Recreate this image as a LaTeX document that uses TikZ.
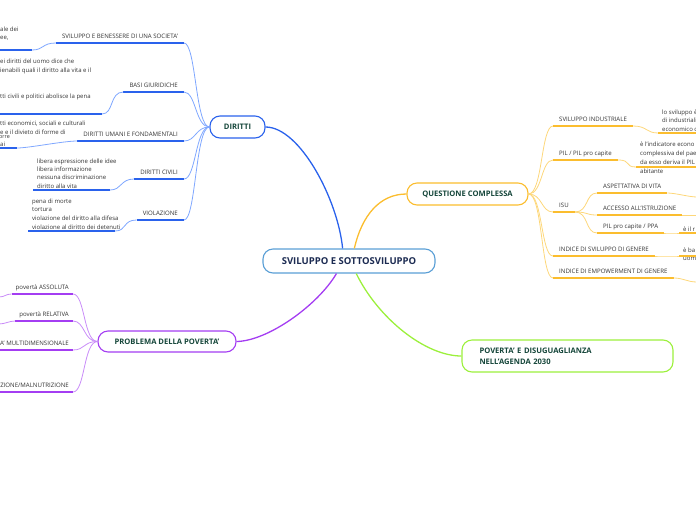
\documentclass[tikz,border=0pt]{standalone}
\usepackage{fontspec}
\setmainfont{Open Sans}
\usepackage{xcolor}
\usetikzlibrary{positioning}
\definecolor{rootblue}{HTML}{5A9FD6}
\definecolor{rootink}{HTML}{1C2B52}
\definecolor{mainink}{HTML}{15463A}
\definecolor{leafink}{HTML}{333333}
\definecolor{dblue}{HTML}{2A62EC}
\definecolor{lblue}{HTML}{7FA7FF}
\definecolor{dorange}{HTML}{FBBD2E}
\definecolor{lorange}{HTML}{FDD77A}
\definecolor{dpurple}{HTML}{A43DF2}
\definecolor{lpurple}{HTML}{C98CF8}
\definecolor{lgreen}{HTML}{9CF03C}

\begin{document}
\begin{tikzpicture}[x=1pt,y=-1pt,
  root/.style={draw=rootblue,line width=1.1pt,rounded corners=10pt,fill=white,text=rootink,
    font=\bfseries\fontsize{9.5}{11}\selectfont,minimum width=172pt,minimum height=24pt},
  main/.style={line width=1.1pt,rounded corners=10pt,fill=white,text=mainink,
    font=\bfseries\fontsize{7.6}{11}\selectfont,minimum height=22pt},
  topic/.style={text=leafink,font=\fontsize{6.1}{8.4}\selectfont,inner xsep=6pt,inner ysep=3pt,
    text height=4.4pt,text depth=1.5pt},
  leaf/.style={text=leafink,font=\fontsize{6}{8.4}\selectfont,align=left,inner xsep=4pt,inner ysep=1.5pt},
  uline/.style={line width=1.7pt},
  lnk/.style={line width=0.8pt},
  lft/.style={out=180,in=0,out distance=14pt,in distance=12pt},
  rgt/.style={out=0,in=180,out distance=14pt,in distance=12pt}]
  \useasboundingbox (0,0) rectangle (696,520);

  \node[root] (svil) at (349,261) {SVILUPPO E SOTTOSVILUPPO};
  \node[main,draw=dblue,minimum width=55pt] (dir) at (237.5,127) {DIRITTI};
  \node[main,draw=dorange,minimum width=121pt] (qc) at (467.5,194) {QUESTIONE COMPLESSA};
  \node[main,draw=dpurple,minimum width=138pt,minimum height=21pt] (pov) at (167,341.5) {PROBLEMA DELLA POVERTA'};
  \node[main,draw=lgreen,align=left,text width=176pt,inner xsep=17.5pt,minimum height=32pt] (agenda) at (567.5,356)
    {POVERTA' E DISUGUAGLIANZA\\NELL'AGENDA 2030};

  \draw[dblue,line width=1.3pt] (svil.117) .. controls (338,200) and (300,127) .. (dir.east);
  \draw[dorange,line width=1.3pt] (svil.67) .. controls (362,215) and (380,194) .. (qc.west);
  \draw[dpurple,line width=1.3pt] (svil.225) .. controls (318,305) and (268,341) .. (pov.east);
  \draw[lgreen,line width=1.3pt] (svil.-60) .. controls (378,318) and (425,356) .. (agenda.west);

  % diritti
  \node[topic,anchor=south east] (sviben) at (184,43) {SVILUPPO E BENESSERE DI UNA SOCIETA'};
  \node[topic,anchor=south east] (basi) at (184,92) {BASI GIURIDICHE};
  \node[topic,anchor=south east] (umani) at (184,141) {DIRITTI UMANI E FONDAMENTALI};
  \node[topic,anchor=south east] (civ) at (184,179) {DIRITTI CIVILI};
  \node[topic,anchor=south east] (viol) at (184,220) {VIOLAZIONE};
  \foreach \t in {sviben,basi,umani,civ,viol}{
    \draw[lblue,lnk] (dir.west) to[lft] (\t.south east);
    \draw[dblue,uline] (\t.south west) -- (\t.south east);
  }

  \node[leaf,anchor=south west,inner xsep=0pt] (benleaf) at (0,50) {ale dei\\ee,\\\mbox{}};
  \coordinate (benend) at (32,50);
  \node[leaf,anchor=south west,inner xsep=0pt] (basileaf) at (0,114)
    {ei diritti del uomo dice che\\ienabili quali il diritto alla vita e il\\[17.6pt]tti civili e politici abolisce la pena\\[5.6pt]\mbox{}};
  \coordinate (basiend) at (102,114);
  \node[leaf,anchor=south west,inner xsep=0pt] (umleaf) at (0,148)
    {tti economici, sociali e culturali\\e e il divieto di forme di\\[3.6pt]ai};
  \node[leaf,anchor=base west,inner xsep=0pt,font=\fontsize{5.4}{6}\selectfont] (orre) at (-1,138.5) {orre};
  \coordinate (umend) at (17,148);
  \node[leaf,anchor=south west] (civleaf) at (33,190)
    {libera espressione delle idee\\libera informazione\\nessuna discriminazione\\diritto alla vita};
  \coordinate (civend) at (110,190);
  \node[leaf,anchor=south west,font=\fontsize{6}{8.7}\selectfont] (violleaf) at (28,231)
    {pena di morte\\tortura\\violazione del diritto alla difesa\\violazione al diritto dei detenuti};
  \coordinate (violend) at (115,231);
  \foreach \t/\l/\e in {sviben/benleaf/benend,basi/basileaf/basiend,umani/umleaf/umend,civ/civleaf/civend,viol/violleaf/violend}{
    \draw[lblue,lnk] (\t.south west) to[lft] (\e);
    \draw[dblue,uline] (\l.south west) -- (\e);
  }

  % questione complessa
  \node[topic,anchor=south west] (ind) at (553,126) {SVILUPPO INDUSTRIALE};
  \node[topic,anchor=south west] (pil) at (553,160) {PIL / PIL pro capite};
  \node[topic,anchor=south west] (isu) at (553,212) {ISU};
  \node[topic,anchor=south west] (isg) at (553,256) {INDICE DI SVILUPPO DI GENERE};
  \node[topic,anchor=south west] (ieg) at (553,278) {INDICE DI EMPOWERMENT DI GENERE};
  \node[topic,anchor=south west] (vita) at (597,193) {ASPETTATIVA DI VITA};
  \node[topic,anchor=south west] (istr) at (597,215) {ACCESSO ALL'ISTRUZIONE};
  \node[topic,anchor=south west] (ppa) at (597,233) {PIL pro capite / PPA};
  \foreach \t in {ind,pil,isu,isg,ieg}
    \draw[lorange,lnk] (qc.east) to[rgt] (\t.south west);
  \foreach \t in {vita,istr,ppa}
    \draw[lorange,lnk] (isu.south east) to[rgt] (\t.south west);
  \foreach \t in {ind,pil,isu,isg,ieg,vita,istr,ppa}
    \draw[dorange,uline] (\t.south west) -- (\t.south east);

  \node[leaf,anchor=south west] (indleaf) at (658,133) {lo sviluppo è\\di industriali\\economico d};
  \coordinate (indend) at (697,133);
  \node[leaf,anchor=north west,font=\fontsize{6}{9}\selectfont] (pilleaf) at (636,140)
    {è l'indicatore econo\\complessiva del pae\\da esso deriva il PIL\\abitante};
  \coordinate (pilstart) at (636,167);
  \coordinate (pilend) at (697,167);
  \node[leaf,anchor=south west] (ppaleaf) at (679,233) {è il r};
  \coordinate (ppaend) at (697,233);
  \node[leaf,anchor=north west] (isgleaf) at (679,246) {è ba\\uom};
  \coordinate (isgstart) at (679,256);
  \coordinate (isgend) at (697,256);
  \coordinate (vitaend) at (697,197);
  \coordinate (istrend) at (697,215);
  \coordinate (iegend) at (697,282);
  \draw[lorange,lnk] (ind.south east) to[rgt] (indleaf.south west);
  \draw[lorange,lnk] (pil.south east) to[rgt] (pilstart);
  \draw[lorange,lnk] (ppa.south east) to[rgt] (ppaleaf.south west);
  \draw[lorange,lnk] (isg.south east) to[rgt] (isgstart);
  \draw[lorange,lnk] (vita.south east) to[out=0,in=180,out distance=8pt,in distance=8pt] (vitaend);
  \draw[lorange,lnk] (istr.south east) -- (istrend);
  \draw[lorange,lnk] (ieg.south east) to[out=0,in=180,out distance=10pt,in distance=10pt] (iegend);
  \draw[dorange,uline] (indleaf.south west) -- (indend);
  \draw[dorange,uline] (pilstart) -- (pilend);
  \draw[dorange,uline] (ppaleaf.south west) -- (ppaend);
  \draw[dorange,uline] (isgstart) -- (isgend);

  % poverta'
  \node[topic,anchor=south east,inner xsep=4pt] (ass) at (73,294) {povertà ASSOLUTA};
  \node[topic,anchor=south east,inner xsep=4pt] (rel) at (73,321) {povertà RELATIVA};
  \node[topic,anchor=south east,inner xsep=4pt] (multi) at (73,350) {A' MULTIDIMENSIONALE};
  \node[topic,anchor=south east,inner xsep=4pt] (nutr) at (73,392) {ZIONE/MALNUTRIZIONE};
  \foreach \t in {ass,rel,multi,nutr}{
    \draw[lpurple,lnk] (pov.west) to[lft] (\t.south east);
    \draw[dpurple,uline] (\t.south west) -- (\t.south east);
  }
  \coordinate (assend) at (-1,297);
  \coordinate (relend) at (-1,324);
  \draw[lpurple,lnk] (ass.south west) to[out=180,in=0,out distance=6pt,in distance=6pt] (assend);
  \draw[lpurple,lnk] (rel.south west) to[out=180,in=0,out distance=6pt,in distance=6pt] (relend);
\end{tikzpicture}
\end{document}
